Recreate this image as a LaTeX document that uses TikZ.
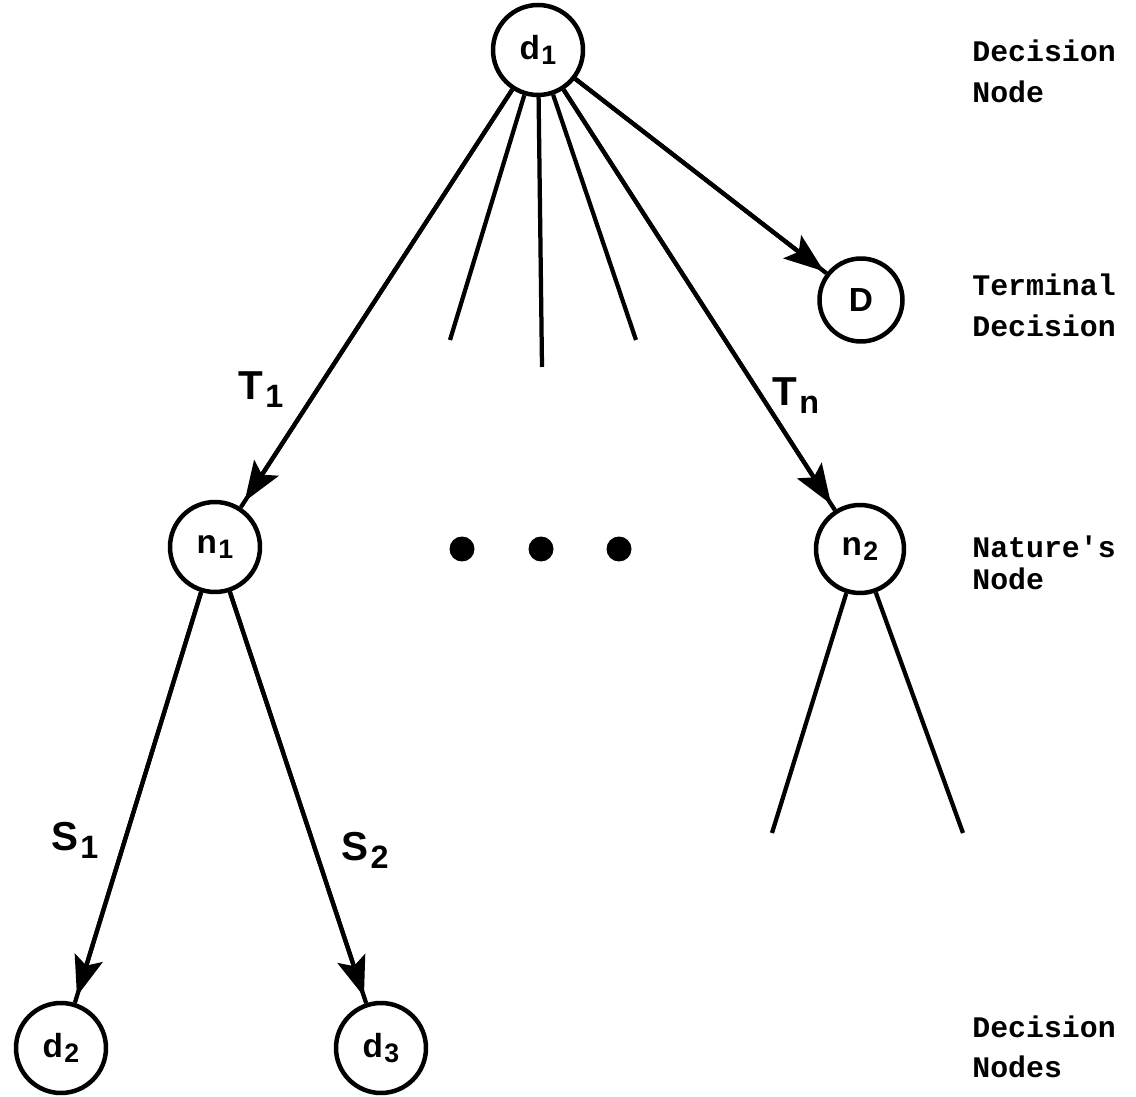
\documentclass[tikz,border=0pt]{standalone}
\usepackage{fontspec}
\usepackage{graphicx}
\usetikzlibrary{arrows.meta}
\newfontfamily\lblfont{Liberation Sans}
\newfontfamily\txtfont{Liberation Mono}
\newcommand\subl[1]{\kern0.05em\raisebox{-0.2em}{\scalebox{0.8}{#1}}}
\newcommand\subn[1]{\kern0.04em\raisebox{-0.14em}{\scalebox{0.8}{#1}}}
\tikzset{
  x=0.02cm, y=-0.02cm,
  nd/.style={circle, draw, line width=0.09cm, minimum size=#1, inner sep=0pt,
    font=\lblfont\bfseries\fontsize{19}{19}\selectfont},
  ln/.style={line width=0.085cm},
  arr/.style={ln, -{Stealth[length=0.8cm,width=0.58cm,inset=0.16cm]}, shorten >=0.14cm},
  elbl/.style={font=\lblfont\bfseries\fontsize{23}{23}\selectfont, inner sep=0pt},
  side/.style={anchor=base west, font=\txtfont\bfseries\fontsize{17}{17}\selectfont, inner sep=0pt},
  dotn/.style={circle, fill, minimum size=0.5cm, inner sep=0pt},
}
\begin{document}
\begin{tikzpicture}
\path[use as bounding box] (0,0) rectangle (1136,1097);
% nodes
\node[nd=1.8cm]  (d1) at (538,50)   {d\subn{1}};
\node[nd=1.66cm] (D)  at (861,300)  {D};
\node[nd=1.8cm]  (n1) at (215,547)  {n\subn{1}};
\node[nd=1.76cm] (n2) at (860,549)  {n\subn{2}};
\node[nd=1.8cm]  (d2) at (61,1048)  {d\subn{2}};
\node[nd=1.8cm]  (d3) at (381,1048) {d\subn{3}};
% dots
\node[dotn] (p1) at (462,549) {};
\node[dotn] (p2) at (541,549) {};
\node[dotn] (p3) at (619,549) {};
% fan ends
\coordinate (f1) at (450,340);
\coordinate (f2) at (542,367);
\coordinate (f3) at (636,340);
\coordinate (g1) at (772,833);
\coordinate (g2) at (963,833);
% connectors
\draw[ln] (d1) -- (f1);
\draw[ln] (d1) -- (f2);
\draw[ln] (d1) -- (f3);
\draw[ln] (d1) -- (n1); \draw[arr] (d1) -- (n1);
\draw[ln] (d1) -- (n2); \draw[arr] (d1) -- (n2);
\draw[ln] (d1) -- (D);  \draw[arr, shorten >=0.06cm] (d1) -- (D);
\draw[ln] (n1) -- (d2); \draw[arr] (n1) -- (d2);
\draw[ln] (n1) -- (d3); \draw[arr] (n1) -- (d3);
\draw[ln] (n2) -- (g1);
\draw[ln] (n2) -- (g2);
% edge labels
\node[elbl] (t1) at (261,390) {T\subl{1}};
\node[elbl] (tn) at (796,396) {T\subl{n}};
\node[elbl] (s1) at (75,840)  {S\subl{1}};
\node[elbl] (s2) at (365,850) {S\subl{2}};
% side labels
\node[side] (a1) at (972,62)   {Decision};
\node[side] (a2) at (972,103)  {Node};
\node[side] (b1) at (972,296)  {Terminal};
\node[side] (b2) at (972,337)  {Decision};
\node[side] (c1) at (972,558)  {Nature's};
\node[side] (c2) at (972,590)  {Node};
\node[side] (e1) at (972,1037) {Decision};
\node[side] (e2) at (972,1077) {Nodes};
\end{tikzpicture}
\end{document}
